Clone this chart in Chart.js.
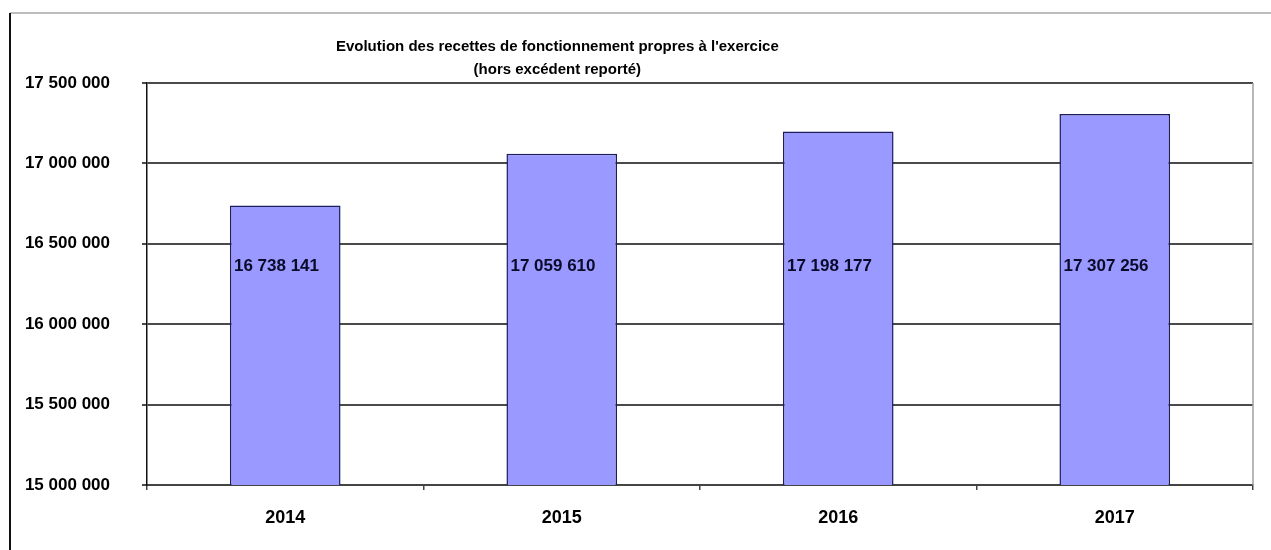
<!DOCTYPE html>
<html>
<head>
<meta charset="utf-8">
<script src="https://cdn.jsdelivr.net/npm/chart.js@4"></script>
<style>
  html, body { margin: 0; padding: 0; background: #fff; }
  #wrap { width: 1271px; height: 550px; position: relative; }
</style>
</head>
<body>
<div id="wrap"><canvas id="bar-chart" width="1271" height="550"></canvas></div>
<script>
const years = ["2014", "2015", "2016", "2017"];
const recettes = [16738141, 17059610, 17198177, 17307256];
const titleLines = ["Evolution des recettes de fonctionnement propres à l'exercice", "(hors excédent reporté)"];
const yMin = 15000000, yMax = 17500000, yStep = 500000;

const FONT = "'Liberation Sans', Arial, sans-serif";

// 17307256 -> "17 307 256"
function spaced(n) {
  return String(Math.round(n)).replace(/\B(?=(\d{3})+(?!\d))/g, " ");
}

const decor = {
  id: 'decor',
  beforeDraw(chart) {
    const ctx = chart.ctx;
    ctx.save();
    ctx.fillStyle = '#fff';
    ctx.fillRect(0, 0, chart.width, chart.height);
    // outer frame
    ctx.strokeStyle = '#bdbdbd';
    ctx.lineWidth = 2;
    ctx.beginPath();
    ctx.moveTo(10, 13); ctx.lineTo(chart.width, 13);
    ctx.stroke();
    ctx.strokeStyle = '#111';
    ctx.beginPath();
    ctx.moveTo(10, 13); ctx.lineTo(10, chart.height);
    ctx.stroke();
    ctx.restore();
  },
  afterDraw(chart) {
    const ctx = chart.ctx, a = chart.chartArea;
    ctx.save();
    // plot right border
    ctx.strokeStyle = '#a0a0a0';
    ctx.lineWidth = 1.5;
    ctx.beginPath();
    ctx.moveTo(a.right, a.top); ctx.lineTo(a.right, a.bottom);
    ctx.stroke();
    // title
    ctx.fillStyle = '#000';
    ctx.font = 'bold 15px ' + FONT;
    ctx.textAlign = 'center';
    ctx.textBaseline = 'middle';
    const cx = a.left + (a.right - a.left) * 0.371;
    ctx.fillText(titleLines[0], cx, 47);
    ctx.fillText(titleLines[1], cx, 70);
    ctx.restore();
  },
  afterDatasetsDraw(chart) {
    const ctx = chart.ctx, a = chart.chartArea;
    const meta = chart.getDatasetMeta(0);
    ctx.save();
    ctx.fillStyle = '#0a0a2a';
    ctx.font = 'bold 17px ' + FONT;
    ctx.textAlign = 'left';
    ctx.textBaseline = 'middle';
    const y = a.top + (a.bottom - a.top) * 0.455;
    meta.data.forEach((bar, i) => {
      ctx.fillText(spaced(recettes[i]), bar.x - bar.width / 2 + 4, y);
    });
    ctx.restore();
  }
};

new Chart(document.getElementById("bar-chart"), {
  type: 'bar',
  data: {
    labels: years,
    datasets: [{
      data: recettes,
      backgroundColor: '#9999ff',
      borderColor: '#1c1c5c',
      borderWidth: 1.5,
      borderSkipped: 'bottom',
      barPercentage: 0.4,
      categoryPercentage: 1.0
    }]
  },
  options: {
    responsive: false,
    animation: false,
    layout: { padding: { left: 10, right: 18, top: 83, bottom: 0 } },
    plugins: {
      legend: { display: false },
      title: { display: false },
      tooltip: { enabled: false }
    },
    scales: {
      x: {
        offset: true,
        grid: {
          offset: true,
          drawOnChartArea: false,
          drawTicks: true,
          tickLength: 5,
          color: '#444',
          lineWidth: 1.5
        },
        border: { color: '#444', width: 2 },
        ticks: {
          color: '#000',
          padding: 17,
          font: { family: FONT, size: 18, weight: 'bold' }
        },
        afterFit(scale) { scale.height = 65; }
      },
      y: {
        min: yMin,
        max: yMax,
        grid: {
          color: '#4a4a4a',
          lineWidth: 2,
          drawTicks: true,
          tickLength: 5
        },
        border: { color: '#111', width: 1.5 },
        ticks: {
          stepSize: yStep,
          color: '#000',
          padding: 32,
          font: { family: FONT, size: 17, weight: 'bold' },
          callback: v => spaced(v)
        },
        afterFit(scale) { scale.width = 137; }
      }
    }
  },
  plugins: [decor]
});
</script>
</body>
</html>
